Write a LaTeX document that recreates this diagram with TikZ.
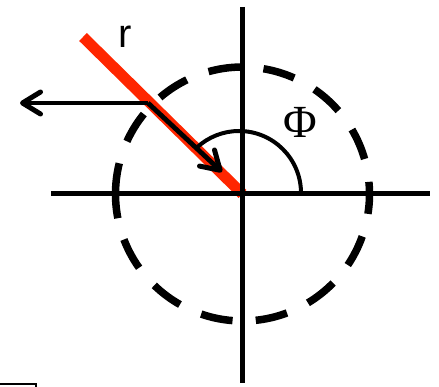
\documentclass[tikz,border=0pt]{standalone}
\usepackage{fontspec}
\newfontfamily\labelsans{Liberation Sans}
\newfontfamily\labelserif{Liberation Serif}
\usetikzlibrary{arrows.meta}
\definecolor{barred}{RGB}{255,38,0}
\tikzset{
  axisline/.style={line width=5pt, black},
  circdash/.style={line width=7.5pt, black},
  redbar/.style={line width=11pt, barred},
  vecline/.style={line width=4.8pt, black, -{Straight Barb[length=18pt,width=22pt,line width=5pt,round]}},
  anglearc/.style={line width=4pt, black},
  lbl/.style={inner sep=0pt, anchor=base},
}
\begin{document}
\begin{tikzpicture}[x=1pt,y=1pt]
\useasboundingbox (0,0) rectangle (439,-387);
\coordinate (O) at (242.5,-194);
\coordinate (C) at (239,-193);
\coordinate (axL) at (51,-194);
\coordinate (axR) at (430,-194);
\coordinate (axT) at (242.5,-7);
\coordinate (axB) at (242.5,-383);
\coordinate (rtop) at (83,-37);
\coordinate (P) at (148,-103);
\coordinate (Ltip) at (20,-103);
\coordinate (Dtip) at (222,-172);
% dashed circle
\foreach \k in {0,...,12}{
  \pgfmathsetmacro{\sa}{201+25*\k}
  \pgfmathsetmacro{\ea}{\sa+14.5}
  \draw[circdash] ([shift={(\sa:127)}]O) arc[start angle=\sa, end angle=\ea, radius=127];
}
\draw[circdash] ([shift={(166:127)}]O) arc[start angle=166, end angle=191, radius=127];
% red bar
\draw[redbar] (rtop) -- (O);
% axes
\draw[axisline] (axL) -- (axR);
\draw[axisline] (axT) -- (axB);
% angle arc
\draw[anglearc] ([shift={(0:62)}]C) arc[start angle=0, end angle=133, radius=62];
% vectors
\draw[vecline] (P) -- (Ltip);
\draw[vecline] (P) -- (Dtip);
% labels
\node[lbl, font=\labelsans\fontsize{40}{40}\selectfont] (rlab) at (125,-48) {r};
\node[lbl, font=\labelserif\fontsize{46}{46}\selectfont] (philab) at (300.5,-138) {Φ};
% corner fragment
\draw[line width=2pt] (0,-384.3) -- (36,-384.3) -- (36,-387);
\end{tikzpicture}
\end{document}
